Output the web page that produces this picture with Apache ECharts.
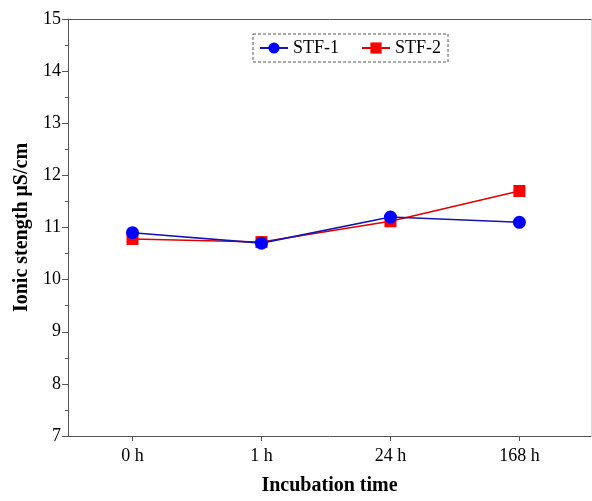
<!DOCTYPE html>
<html><head><meta charset="utf-8">
<script src="https://cdn.jsdelivr.net/npm/echarts@6/dist/echarts.min.js"></script>
<style>html,body{margin:0;padding:0;background:#fff}#c{width:592px;height:501px}</style>
</head><body><div id="c"></div>
<script>
const categories = ['0 h', '1 h', '24 h', '168 h'];
const stf1 = [10.9, 10.7, 11.2, 11.1];
const stf2 = [10.78, 10.72, 11.12, 11.7];
const yTicks = [7, 8, 9, 10, 11, 12, 13, 14, 15];

const font = 'Liberation Serif';
const chart = echarts.init(document.getElementById('c'));
const idx = categories.map((_, i) => i);
chart.setOption({
  animation: false,
  backgroundColor: '#fff',
  textStyle: { fontFamily: font },
  grid: { left: 68, right: 1, top: 19, bottom: 59 },
  legend: {
    data: ['STF-1', 'STF-2'],
    left: 253, top: 34,
    padding: [5, 7, 5, 6],
    itemGap: 22,
    itemWidth: 28, itemHeight: 14,
    borderColor: '#555', borderWidth: 1, borderType: [3, 2],
    textStyle: { fontFamily: font, fontSize: 18, color: '#000' }
  },
  xAxis: [{
    type: 'value', min: -0.5, max: 3.555,
    name: 'Incubation time', nameLocation: 'middle', nameGap: 40,
    nameTextStyle: { fontFamily: font, fontSize: 20, fontWeight: 'bold', color: '#000' },
    axisLine: { onZero: false, lineStyle: { color: '#555', width: 1 } },
    axisTick: { customValues: idx, length: 5, lineStyle: { color: '#555' } },
    axisLabel: { customValues: idx, formatter: v => categories[Math.round(v)], fontFamily: font, fontSize: 18, color: '#000', margin: 11 },
    splitLine: { show: false }
  }, {
    type: 'value', min: -0.5, max: 3.555, position: 'top',
    axisLine: { show: true, onZero: false, lineStyle: { color: '#555', width: 1 } },
    axisTick: { show: false }, axisLabel: { show: false }, splitLine: { show: false }
  }],
  yAxis: [{
    type: 'value', min: yTicks[0], max: yTicks[yTicks.length - 1], interval: 1,
    name: 'Ionic stength μS/cm', nameLocation: 'middle', nameGap: 36,
    nameTextStyle: { fontFamily: font, fontSize: 20, fontWeight: 'bold', color: '#000' },
    axisLine: { show: true, onZero: false, lineStyle: { color: '#555', width: 1 } },
    axisTick: { show: true, length: 6, lineStyle: { color: '#555' } },
    minorTick: { show: true, splitNumber: 2, length: 3, lineStyle: { color: '#555' } },
    axisLabel: { fontFamily: font, fontSize: 18, color: '#000', margin: 7 },
    splitLine: { show: false }
  }, {
    type: 'value', min: 7, max: 15, position: 'right',
    axisLine: { show: true, onZero: false, lineStyle: { color: '#ddd', width: 1 } },
    axisTick: { show: false }, axisLabel: { show: false }, splitLine: { show: false }
  }],
  series: [{
    name: 'STF-2', type: 'line', z: 2,
    data: stf2.map((v, i) => [i, v]),
    symbol: 'rect', symbolSize: 12,
    itemStyle: { color: '#ff0000' },
    lineStyle: { color: '#e00000', width: 1.5 }
  }, {
    name: 'STF-1', type: 'line', z: 3,
    data: stf1.map((v, i) => [i, v]),
    symbol: 'circle', symbolSize: 13,
    itemStyle: { color: '#0000ff' },
    lineStyle: { color: '#1414b0', width: 1.6 }
  }]
});
</script></body></html>
